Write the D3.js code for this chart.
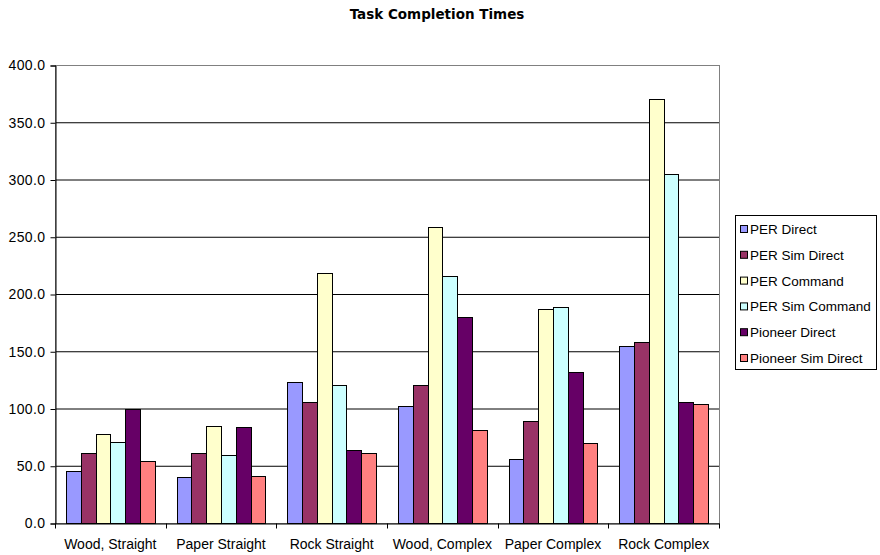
<!DOCTYPE html>
<html>
<head>
<meta charset="utf-8">
<script src="https://cdn.jsdelivr.net/npm/d3@7"></script>
<style>
  body { margin: 0; background: #fff; }
  svg { display: block; font-family: "Liberation Sans", Arial, sans-serif; }
</style>
</head>
<body>
<svg></svg>
<script>
let categories = ["Wood, Straight", "Paper Straight", "Rock Straight", "Wood, Complex", "Paper Complex", "Rock Complex"];
let seriesNames = ["PER Direct", "PER Sim Direct", "PER Command", "PER Sim Command", "Pioneer Direct", "Pioneer Sim Direct"];
let seriesColors = ["#9999FF", "#993366", "#FFFFCC", "#CCFFFF", "#660066", "#FF8080"];

let perDirect       = [45, 40, 123, 102.5, 55.5, 154.5];
let perSimDirect    = [61.5, 61.5, 106, 120.5, 89.5, 158];
let perCommand      = [78, 85, 218.5, 258.5, 186.5, 370.5];
let perSimCommand   = [71, 59, 120.5, 216, 188.5, 304.5];
let pioneerDirect   = [100, 84, 64, 179.5, 132, 106];
let pioneerSimDir   = [54.5, 41, 61.5, 81, 69.5, 104];

let yTicks = [0, 50, 100, 150, 200, 250, 300, 350, 400];

let allSeries = [perDirect, perSimDirect, perCommand, perSimCommand, pioneerDirect, pioneerSimDir];

let width = 880;
let height = 555;
let plotLeft = 55, plotRight = 719, plotTop = 65, plotBottom = 523;
let labelFont = "14px";

let svg = d3.select("svg").attr("width", width).attr("height", height);

// title
svg.append("text")
   .attr("x", 437)
   .attr("y", 19)
   .attr("text-anchor", "middle")
   .style("font-family", "'DejaVu Sans', sans-serif")
   .style("font-weight", "bold")
   .style("font-size", "13.5px")
   .text("Task Completion Times");

let xScale = d3.scaleBand()
               .domain(categories)
               .range([plotLeft, plotRight]);

// 6 bars + gap 150% of a bar
let inner = d3.scaleBand()
              .domain(d3.range(seriesNames.length))
              .range([0, xScale.bandwidth()])
              .paddingInner(0)
              .paddingOuter(0.75);

let yScale = d3.scaleLinear()
               .domain([0, 400])
               .range([plotBottom, plotTop]);

// gridlines
svg.append("g")
   .selectAll("line")
   .data(yTicks.filter(t => t > 0 && t < 400))
   .enter()
   .append("line")
   .attr("x1", plotLeft)
   .attr("x2", plotRight)
   .attr("y1", d => yScale(d) + 0.5)
   .attr("y2", d => yScale(d) + 0.5)
   .attr("stroke", "#000")
   .attr("stroke-width", 1);

// plot border (gray, top and right)
svg.append("rect")
   .attr("x", plotLeft + 0.5)
   .attr("y", plotTop + 0.5)
   .attr("width", plotRight - plotLeft)
   .attr("height", plotBottom - plotTop)
   .attr("fill", "none")
   .attr("stroke", "#808080");

// bars
categories.forEach((cat, ci) => {
    svg.append("g")
       .selectAll("rect")
       .data(allSeries.map((s, si) => ({ si: si, v: s[ci] })))
       .enter()
       .append("rect")
       .attr("x", d => Math.round(xScale(cat) + inner(d.si)) + 0.5)
       .attr("y", d => Math.round(yScale(d.v)) + 0.5)
       .attr("width", d => Math.round(xScale(cat) + inner(d.si) + inner.bandwidth()) - Math.round(xScale(cat) + inner(d.si)))
       .attr("height", d => Math.round(yScale(0)) - Math.round(yScale(d.v)))
       .attr("fill", d => seriesColors[d.si])
       .attr("stroke", "#000")
       .attr("stroke-width", 1);
});

// y axis
let yAxis = d3.axisLeft(yScale)
              .tickValues(yTicks)
              .tickSize(5)
              .tickFormat(d3.format(".1f"));

let yg = svg.append("g")
   .attr("transform", `translate(${plotLeft + 0.5}, 0.5)`)
   .call(yAxis);
yg.select(".domain").attr("stroke", "#000");
yg.selectAll(".tick line").attr("stroke", "#000");
yg.selectAll(".tick text")
  .attr("x", -10)
  .style("font-size", labelFont)
  .style("font-family", "'Liberation Sans', Arial, sans-serif")
  .style("letter-spacing", "0.4px")
  .attr("fill", "#000");

// x axis
let xAxis = d3.axisBottom(xScale).tickSize(0).tickSizeOuter(0);
let xg = svg.append("g")
   .attr("transform", `translate(0, ${plotBottom + 0.5})`)
   .call(xAxis);
xg.select(".domain").attr("stroke", "#000");
xg.selectAll(".tick text")
  .attr("y", 16)
  .style("font-size", labelFont)
  .style("font-family", "'Liberation Sans', Arial, sans-serif")
  .attr("fill", "#000");

// category separator ticks
let bounds = categories.map(c => xScale(c)).concat([plotRight]);
xg.selectAll(".sep")
  .data(bounds)
  .enter()
  .append("line")
  .attr("x1", d => Math.round(d) + 0.5)
  .attr("x2", d => Math.round(d) + 0.5)
  .attr("y1", 0)
  .attr("y2", 5)
  .attr("stroke", "#000");

// legend
let legend = svg.append("g");
legend.append("rect")
      .attr("x", 735.5)
      .attr("y", 215.5)
      .attr("width", 141)
      .attr("height", 154)
      .attr("fill", "#fff")
      .attr("stroke", "#000");

let items = legend.selectAll(".item")
      .data(seriesNames)
      .enter()
      .append("g")
      .attr("transform", (d, i) => `translate(740, ${229 + i * 25.8})`);

items.append("rect")
     .attr("x", 0.5)
     .attr("y", -3.5)
     .attr("width", 7)
     .attr("height", 7)
     .attr("fill", (d, i) => seriesColors[i])
     .attr("stroke", "#000");

items.append("text")
     .attr("x", 10)
     .attr("y", 5)
     .style("font-size", "13.5px")
     .text(d => d);
</script>
</body>
</html>
